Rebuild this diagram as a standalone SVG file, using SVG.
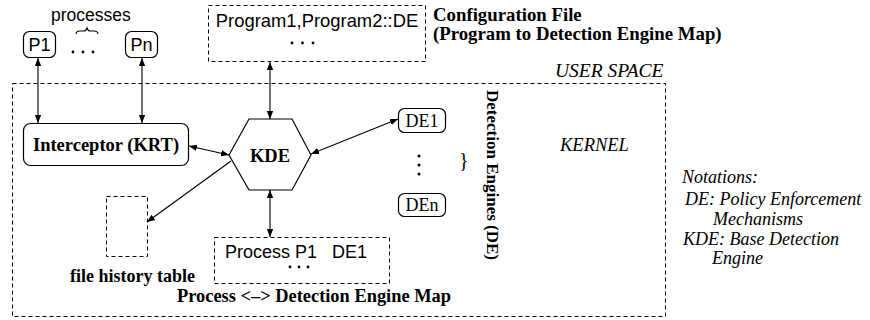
<svg xmlns="http://www.w3.org/2000/svg" width="870" height="320" viewBox="0 0 870 320">
<style>
.sans{font-family:"Liberation Sans",Arial,sans-serif;fill:#000}
.serif{font-family:"Liberation Serif","Times New Roman",serif;fill:#000}
.b{font-weight:bold}
.i{font-style:italic}
.box{fill:#fff;stroke:#000;stroke-width:1.2}
.dash{fill:none;stroke:#000;stroke-width:1;stroke-dasharray:4,3}
.conn{stroke:#000;stroke-width:1.1;fill:none}
</style>
<defs>
<marker id="ah" viewBox="0 0 10 10" refX="10" refY="5" markerWidth="8" markerHeight="8" markerUnits="userSpaceOnUse" orient="auto-start-reverse">
<path d="M0,1 L10,5 L0,9 Z" fill="#000"/>
</marker>
</defs>
<rect fill="#fff" width="870" height="320"/>

<g id="kernel-region">
<rect class="dash" x="12.5" y="83.5" width="653" height="233"/>
<text class="serif i" x="555" y="77" font-size="19.5">USER SPACE</text>
<text class="serif i" x="560" y="151" font-size="18.5">KERNEL</text>
</g>

<g id="processes-label">
<text class="sans" x="51" y="21" font-size="17.5">processes</text>
<path class="conn" d="M76,34 Q76,31 80,31 L84,31 Q86,31 87,28 Q88,31 90,31 L94,31 Q98,31 98,34" stroke-width="1"/>
<circle cx="73" cy="52" r="1.4"/><circle cx="83" cy="52" r="1.4"/><circle cx="93" cy="52" r="1.4"/>
</g>

<g id="p1">
<rect class="box" x="23.5" y="31.5" width="32" height="26" rx="6"/>
<text class="sans" x="39.5" y="51" font-size="18" text-anchor="middle">P1</text>
</g>
<g id="pn">
<rect class="box" x="125.5" y="31.5" width="32" height="26" rx="6"/>
<text class="sans" x="141.5" y="51" font-size="18" text-anchor="middle">Pn</text>
</g>

<g id="config-file">
<rect class="dash" x="208.5" y="5.5" width="217" height="56"/>
<text class="sans" x="317" y="27" font-size="18.4" text-anchor="middle">Program1,Program2::DE</text>
<circle cx="292" cy="43" r="1.4"/><circle cx="302.5" cy="43" r="1.4"/><circle cx="313" cy="43" r="1.4"/>
<text class="serif b" x="433" y="21" font-size="18.8">Configuration File</text>
<text class="serif b" x="433" y="40" font-size="18.8">(Program to Detection Engine Map)</text>
</g>

<g id="interceptor">
<rect class="box" x="23.5" y="123.5" width="165" height="42" rx="7"/>
<text class="serif b" x="106" y="151" font-size="18.5" text-anchor="middle">Interceptor (KRT)</text>
</g>

<g id="kde">
<polygon class="box" points="229,155 249,119 292,119 311,155 292,190 249,190"/>
<text class="serif b" x="270" y="162" font-size="18.5" text-anchor="middle">KDE</text>
</g>

<g id="de1">
<rect class="box" x="398.5" y="108.5" width="47" height="24" rx="6"/>
<text class="serif" x="422" y="127" font-size="18" text-anchor="middle">DE1</text>
</g>
<g id="den">
<rect class="box" x="398.5" y="193.5" width="47" height="23" rx="6"/>
<text class="serif" x="422" y="211" font-size="18" text-anchor="middle">DEn</text>
</g>
<g id="de-group">
<circle cx="419" cy="156" r="1.5"/><circle cx="419" cy="165" r="1.5"/><circle cx="419" cy="174" r="1.5"/>
<text class="serif" x="459" y="167" font-size="20">}</text>
<text class="serif b" font-size="17" transform="translate(487,90) rotate(90)">Detection Engines (DE)</text>
</g>

<g id="file-history">
<rect class="dash" x="106.5" y="196.5" width="41" height="60"/>
<text class="serif b" x="70" y="282" font-size="18">file history table</text>
</g>

<g id="process-map">
<rect class="dash" x="214.5" y="237.5" width="175" height="46"/>
<text class="sans" x="225" y="258" font-size="18" xml:space="preserve">Process P1   DE1</text>
<circle cx="290" cy="267" r="1.4"/><circle cx="299" cy="267" r="1.4"/><circle cx="308" cy="267" r="1.4"/>
<text class="serif b" x="177" y="302" font-size="18.4">Process &lt;&#8211;&gt; Detection Engine Map</text>
</g>

<g id="notations">
<text class="serif i" x="682" y="183" font-size="18">Notations:</text>
<text class="serif i" x="685" y="205" font-size="18">DE: Policy Enforcement</text>
<text class="serif i" x="713" y="225" font-size="18">Mechanisms</text>
<text class="serif i" x="683" y="245" font-size="18">KDE: Base Detection</text>
<text class="serif i" x="712" y="264" font-size="18">Engine</text>
</g>

<g id="connectors">
<line class="conn" x1="38" y1="58" x2="38" y2="123" marker-start="url(#ah)" marker-end="url(#ah)"/>
<line class="conn" x1="142" y1="58" x2="142" y2="123" marker-start="url(#ah)" marker-end="url(#ah)"/>
<line class="conn" x1="270" y1="62" x2="270" y2="119" marker-start="url(#ah)" marker-end="url(#ah)"/>
<line class="conn" x1="189" y1="146" x2="229" y2="155" marker-start="url(#ah)" marker-end="url(#ah)"/>
<line class="conn" x1="231" y1="161" x2="147" y2="222" marker-end="url(#ah)"/>
<line class="conn" x1="311" y1="154" x2="398" y2="119" marker-start="url(#ah)" marker-end="url(#ah)"/>
<line class="conn" x1="270" y1="190" x2="270" y2="237" marker-start="url(#ah)" marker-end="url(#ah)"/>
</g>
</svg>
